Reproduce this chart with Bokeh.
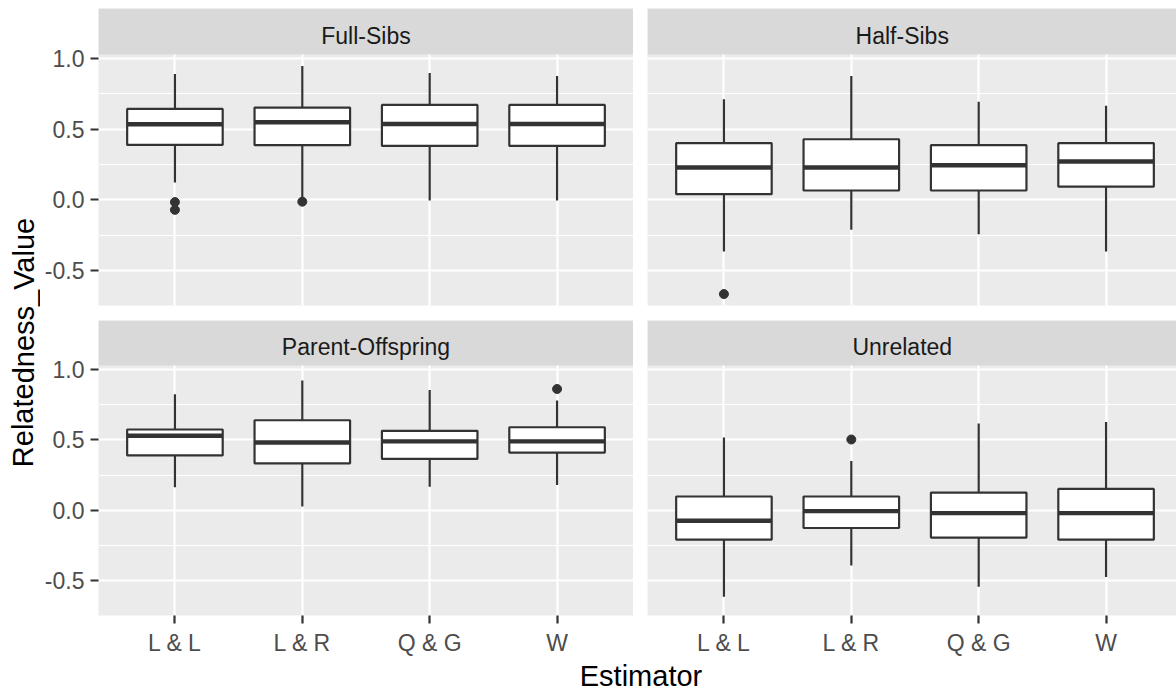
from bokeh.plotting import figure
from bokeh.models import Range1d, FixedTicker, Grid, ColumnDataSource, PrintfTickFormatter
from bokeh.layouts import row, column
from bokeh.embed import file_html
from bokeh.resources import INLINE
from bokeh.core.properties import value

FONT = "Liberation Sans"

# ---------------- data ----------------
categories = ["L & L", "L & R", "Q & G", "W"]
panels = ["Full-Sibs", "Half-Sibs", "Parent-Offspring", "Unrelated"]

fs_lower = [0.122, 0.010, -0.005, -0.005]
fs_q1 = [0.389, 0.387, 0.382, 0.382]
fs_med = [0.535, 0.549, 0.537, 0.537]
fs_q3 = [0.644, 0.653, 0.672, 0.672]
fs_upper = [0.891, 0.948, 0.898, 0.877]
fs_out_cat = ["L & L", "L & L", "L & R"]
fs_out_val = [-0.016, -0.071, -0.013]

hs_lower = [-0.366, -0.212, -0.243, -0.366]
hs_q1 = [0.040, 0.066, 0.066, 0.094]
hs_med = [0.229, 0.229, 0.245, 0.271]
hs_q3 = [0.401, 0.429, 0.387, 0.401]
hs_upper = [0.712, 0.877, 0.695, 0.667]
hs_out_cat = ["L & L"]
hs_out_val = [-0.667]

po_lower = [0.164, 0.027, 0.168, 0.180]
po_q1 = [0.390, 0.334, 0.365, 0.410]
po_med = [0.530, 0.482, 0.490, 0.490]
po_q3 = [0.574, 0.640, 0.565, 0.590]
po_upper = [0.824, 0.923, 0.855, 0.780]
po_out_cat = ["W"]
po_out_val = [0.862]

un_lower = [-0.614, -0.393, -0.543, -0.475]
un_q1 = [-0.209, -0.126, -0.194, -0.209]
un_med = [-0.074, -0.006, -0.020, -0.020]
un_q3 = [0.098, 0.098, 0.126, 0.152]
un_upper = [0.518, 0.350, 0.617, 0.628]
un_out_cat = ["L & R"]
un_out_val = [0.503]

y_ticks = [-0.5, 0.0, 0.5, 1.0]
y_minor = [-0.25, 0.25, 0.75]

# ---------------- layout constants ----------------
Y_LO, Y_HI = -0.748, 1.029
X_LO, X_FULL_HI = 0.4, 4.6
BOX_W = 0.75
LINE = "#333333"
xpos = {c: i + 1 for i, c in enumerate(categories)}


def make_panel(name, lower, q1, med, q3, upper, out_cat, out_val,
               frame_w, frame_h, strip_h, x_end, show_x, show_y,
               mb_left, mb_top, mb_bottom, label_x):
    panel_h = frame_h - strip_h
    scale = panel_h / (Y_HI - Y_LO)
    y_top = Y_HI + strip_h / scale
    p = figure(frame_width=frame_w, frame_height=frame_h,
               x_range=Range1d(X_LO, x_end), y_range=Range1d(Y_LO, y_top),
               x_axis_location="below" if show_x else None,
               y_axis_location="left" if show_y else None,
               toolbar_location=None, output_backend="svg",
               min_border_left=mb_left, min_border_right=0,
               min_border_top=mb_top, min_border_bottom=mb_bottom,
               background_fill_color="#EBEBEB", border_fill_color="white",
               outline_line_color=None)
    p.grid.visible = False
    yg = Grid(dimension=1, ticker=FixedTicker(ticks=y_ticks, minor_ticks=y_minor),
              grid_line_color="white", grid_line_width=2.2,
              minor_grid_line_color="white", minor_grid_line_width=1.1)
    xg = Grid(dimension=0, ticker=FixedTicker(ticks=[xpos[c] for c in categories]),
              grid_line_color="white", grid_line_width=2.2)
    p.add_layout(yg, "center")
    p.add_layout(xg, "center")

    xs = [xpos[c] for c in categories]
    src = ColumnDataSource(dict(
        x=xs, xl=[x - BOX_W / 2 for x in xs], xr=[x + BOX_W / 2 for x in xs],
        lower=lower, q1=q1, med=med, q3=q3, upper=upper))
    p.segment(x0="x", y0="q3", x1="x", y1="upper", source=src, line_color=LINE, line_width=2.2)
    p.segment(x0="x", y0="lower", x1="x", y1="q1", source=src, line_color=LINE, line_width=2.2)
    p.vbar(x="x", width=BOX_W, bottom="q1", top="q3", source=src,
           fill_color="white", line_color=LINE, line_width=2.2)
    p.segment(x0="xl", y0="med", x1="xr", y1="med", source=src, line_color=LINE, line_width=4.4)
    osrc = ColumnDataSource(dict(x=[xpos[c] for c in out_cat], y=out_val))
    p.scatter(x="x", y="y", source=osrc, size=9, fill_color=LINE, line_color=LINE)

    # strip
    p.quad(left=[X_LO], right=[x_end], bottom=[Y_HI], top=[y_top],
           fill_color="#D9D9D9", line_color=None)
    p.text(x=[label_x], y=[Y_HI + 18.8 / scale], text=[name],
           text_font=value(FONT), text_font_size="23px", text_color="#1A1A1A",
           text_align="center", text_baseline="middle")

    if show_y:
        ax = p.yaxis[0]
        ax.ticker = FixedTicker(ticks=y_ticks)
        ax.formatter = PrintfTickFormatter(format="%.1f")
        ax.axis_line_color = None
        ax.major_tick_line_color = LINE
        ax.major_tick_line_width = 2.2
        ax.major_tick_in = 0
        ax.major_tick_out = 8
        ax.minor_tick_line_color = None
        ax.major_label_text_font = FONT
        ax.major_label_text_font_size = "23px"
        ax.major_label_text_color = "#4D4D4D"
        ax.major_label_standoff = 6
    if show_x:
        ax = p.xaxis[0]
        ax.ticker = FixedTicker(ticks=xs)
        ax.major_label_overrides = {xpos[c]: c for c in categories}
        ax.axis_line_color = None
        ax.major_tick_line_color = LINE
        ax.major_tick_line_width = 2.2
        ax.major_tick_in = 0
        ax.major_tick_out = 8
        ax.minor_tick_line_color = None
        ax.major_label_text_font = FONT
        ax.major_label_text_font_size = "23px"
        ax.major_label_text_color = "#4D4D4D"
        ax.major_label_standoff = 6
    return p


YLAB_W = 40
LEFT_BORDER = 58
LEFT_W = 535
GAP = 14
RIGHT_W = 529
BOTTOM_BORDER = 40
unit = LEFT_W / (X_FULL_HI - X_LO)
right_end = X_LO + RIGHT_W / unit
right_label_x = 2.4

p_fs = make_panel(panels[0], fs_lower, fs_q1, fs_med, fs_q3, fs_upper, fs_out_cat, fs_out_val,
                  LEFT_W, 297, 46, X_FULL_HI, False, True, LEFT_BORDER, 8, 15, 2.5)
p_hs = make_panel(panels[1], hs_lower, hs_q1, hs_med, hs_q3, hs_upper, hs_out_cat, hs_out_val,
                  RIGHT_W, 297, 46, right_end, False, False, GAP, 8, 15, right_label_x)
p_po = make_panel(panels[2], po_lower, po_q1, po_med, po_q3, po_upper, po_out_cat, po_out_val,
                  LEFT_W, 295, 45, X_FULL_HI, True, True, LEFT_BORDER, 0, BOTTOM_BORDER, 2.5)
p_un = make_panel(panels[3], un_lower, un_q1, un_med, un_q3, un_upper, un_out_cat, un_out_val,
                  RIGHT_W, 295, 45, right_end, True, False, GAP, 0, BOTTOM_BORDER, right_label_x)

TOTAL_W = YLAB_W + LEFT_BORDER + LEFT_W + GAP + RIGHT_W
ROWS_H = (8 + 297 + 15) + (295 + BOTTOM_BORDER)


def blank_fig(w, h):
    f = figure(width=w, height=h, x_range=Range1d(0, w), y_range=Range1d(0, h),
               x_axis_location=None, y_axis_location=None,
               toolbar_location=None, output_backend="svg",
               min_border_left=0, min_border_right=0, min_border_top=0, min_border_bottom=0,
               background_fill_color="white", border_fill_color="white",
               outline_line_color=None)
    f.grid.visible = False
    return f


ylab = blank_fig(YLAB_W, ROWS_H)
ylab.text(x=[23], y=[ROWS_H - 342], text=["Relatedness_Value"], angle=1.5707963,
          text_font=value(FONT), text_font_size="29px", text_color="black",
          text_align="center", text_baseline="middle")

XLAB_H = 690 - ROWS_H
xlab = blank_fig(TOTAL_W, XLAB_H)
xlab.text(x=[640.5], y=[XLAB_H - (672.5 - ROWS_H)], text=["Estimator"],
          text_font=value(FONT), text_font_size="29px", text_color="black",
          text_align="center", text_baseline="middle")

layout = column(row(ylab, column(row(p_fs, p_hs), row(p_po, p_un))), xlab)

open("out.html", "w").write(file_html(layout, INLINE))
